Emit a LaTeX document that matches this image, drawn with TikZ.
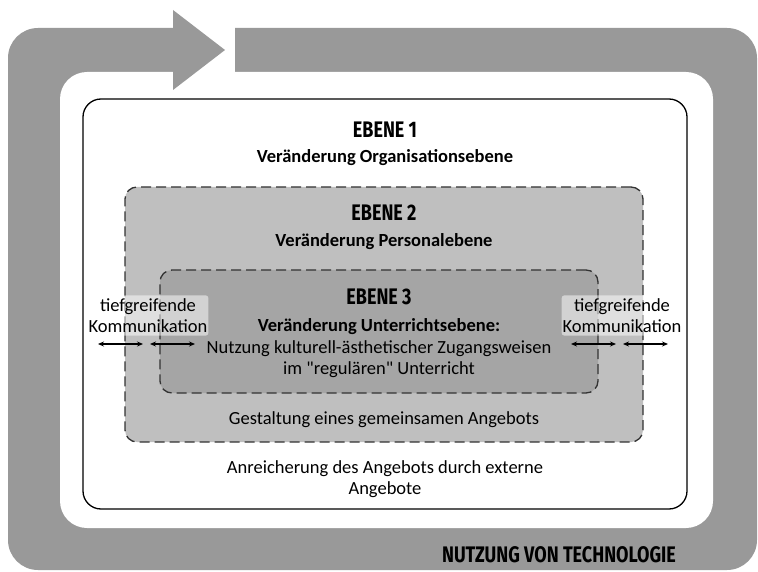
\documentclass[tikz,border=0pt]{standalone}
\usepackage{fontspec}
\setmainfont{Carlito}
\newfontfamily\headfont{Fira Sans}[FakeStretch=0.8]
\usetikzlibrary{arrows.meta}
\definecolor{bandgray}{HTML}{999999}
\definecolor{lvltwo}{HTML}{BFBFBF}
\definecolor{lvlthree}{HTML}{A5A5A5}
\tikzset{
  levelbox/.style={inner sep=0pt, outer sep=0pt, line width=1.3pt},
  dashbox/.style={levelbox, draw=black!80, dash pattern=on 10pt off 5pt, rounded corners=12pt},
  head/.style={font=\headfont\bfseries\fontsize{22.5}{24}\selectfont, inner sep=0pt},
  body/.style={font=\fontsize{18.5}{21.5}\selectfont, align=center, inner sep=0pt},
  bodybold/.style={body, font=\bfseries\fontsize{18.5}{21.5}\selectfont},
  commbox/.style={body, fill=white, fill opacity=0.5, text opacity=1, rounded corners=3pt, inner xsep=1pt, inner ysep=3pt},
  twoway/.style={{Stealth[length=6pt,width=5pt]}-{Stealth[length=6pt,width=5pt]}, line width=1.2pt}
}
\begin{document}
\begin{tikzpicture}[x=1pt,y=-1pt]
\useasboundingbox (0,0) rectangle (758,572);
\fill[white] (0,0) rectangle (758,572);

% surrounding band with its arrow
\fill[bandgray, rounded corners=30pt] (8,28) rectangle (757,570);
\fill[white, rounded corners=27pt] (60,72) rectangle (713,528);
\fill[white] (173,26) rectangle (235,73);
\fill[bandgray] (173,10) -- (225,50) -- (173,90) -- cycle;

% the three levels
\node[levelbox, draw=black, rounded corners=18pt, minimum width=604pt, minimum height=410pt] (lvl1) at (385,304) {};
\node[dashbox, fill=lvltwo, minimum width=518pt, minimum height=255pt] (lvl2) at (384,314.5) {};
\node[dashbox, fill=lvlthree, minimum width=438pt, minimum height=123pt] (lvl3) at (379,331.5) {};

% level 1 texts
\node[head] (h1) at (385,130) {EBENE 1};
\node[bodybold] (t1) at (385,158) {Veränderung Organisationsebene};
\node[body] (t1b) at (385,479) {Anreicherung des Angebots durch externe\\Angebote};

% level 2 texts
\node[head] (h2) at (384,213) {EBENE 2};
\node[bodybold] (t2) at (384,242) {Veränderung Personalebene};
\node[body] (t2b) at (384,420) {Gestaltung eines gemeinsamen Angebots};

% level 3 texts
\node[head] (h3) at (379,297) {EBENE 3};
\node[bodybold] (t3) at (379,327) {Veränderung Unterrichtsebene:};
\node[body] (t3b) at (379,359) {Nutzung kulturell-ästhetischer Zugangsweisen\\im \textquotedbl regulären\textquotedbl{} Unterricht};

% communication labels and arrows
\node[commbox] (cl) at (148,315.5) {tiefgreifende\\Kommunikation};
\node[commbox] (cr) at (622,315.5) {tiefgreifende\\Kommunikation};
\coordinate (la1) at (98,344);  \coordinate (la2) at (143,344);
\coordinate (lb1) at (150,344); \coordinate (lb2) at (195,344);
\coordinate (ra1) at (571,344); \coordinate (ra2) at (616,344);
\coordinate (rb1) at (623,344); \coordinate (rb2) at (668,344);
\draw[twoway] (la1) -- (la2);
\draw[twoway] (lb1) -- (lb2);
\draw[twoway] (ra1) -- (ra2);
\draw[twoway] (rb1) -- (rb2);

% band label
\node[head] (tech) at (559,555) {NUTZUNG VON TECHNOLOGIE};
\end{tikzpicture}
\end{document}
